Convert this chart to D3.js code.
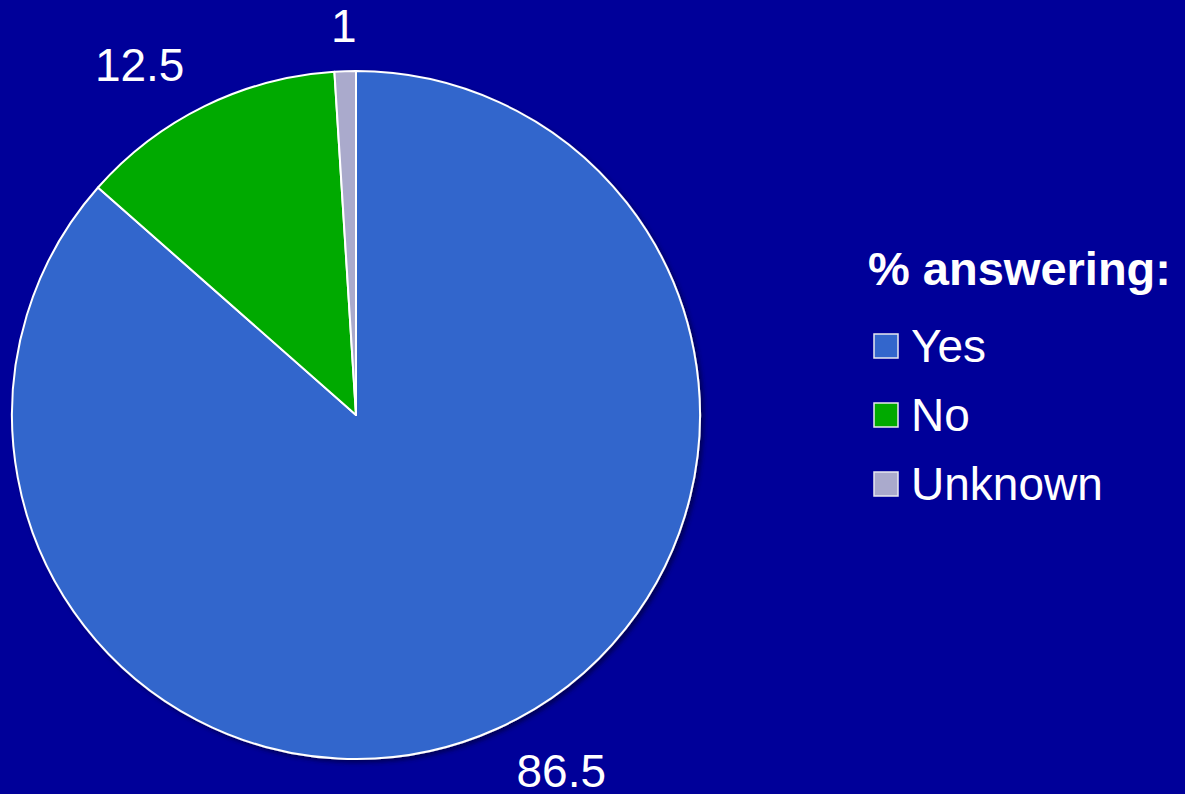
<!DOCTYPE html>
<html>
<head>
<meta charset="utf-8">
<script src="https://cdn.jsdelivr.net/npm/d3@7"></script>
<style>
  html, body { margin: 0; padding: 0; background: #000099; }
  svg { display: block; font-family: "Liberation Sans", Arial, sans-serif; }
</style>
</head>
<body>
<div id="chart"></div>
<script>
// Chart data
const categories = ['Yes', 'No', 'Unknown'];
const values = [86.5, 12.5, 1];
const valueLabels = ['86.5', '12.5', '1'];
const legendTitle = '% answering:';

const width = 1185;
const height = 794;
const colors = {
    background: '#000099',
    Yes: '#3366CC',
    No: '#00AA00',
    Unknown: '#AAAACC'
};

const cx = 356, cy = 415, radius = 344;
const labelRadius = 390;

const svg = d3.select('#chart')
    .append('svg')
    .attr('width', width)
    .attr('height', height);

svg.append('rect')
    .attr('width', width)
    .attr('height', height)
    .attr('fill', colors.background);

// soft shadow under the pie
const defs = svg.append('defs');
defs.append('filter')
    .attr('id', 'shadow')
    .attr('x', '-10%').attr('y', '-10%')
    .attr('width', '120%').attr('height', '120%')
    .append('feDropShadow')
    .attr('dx', 3)
    .attr('dy', 3)
    .attr('stdDeviation', 2)
    .attr('flood-color', '#000033')
    .attr('flood-opacity', 0.6);

const data = categories.map((c, i) => ({ name: c, value: values[i], label: valueLabels[i] }));

const pie = d3.pie()
    .sort(null)
    .value(d => d.value);

const arc = d3.arc()
    .innerRadius(0)
    .outerRadius(radius);

const arcs = pie(data);

const chart = svg.append('g')
    .attr('transform', `translate(${cx},${cy})`);

chart.append('g')
    .attr('filter', 'url(#shadow)')
    .selectAll('path')
    .data(arcs)
    .join('path')
    .attr('d', arc)
    .attr('fill', d => colors[d.data.name])
    .attr('stroke', '#ffffff')
    .attr('stroke-width', 2)
    .attr('stroke-linejoin', 'round');

// value labels outside each slice
chart.selectAll('text.value')
    .data(arcs)
    .join('text')
    .attr('class', 'value')
    .each(function(d) {
        const mid = (d.startAngle + d.endAngle) / 2;
        const dx = Math.sin(mid);
        const dy = -Math.cos(mid);
        const anchor = dx > 0.1 ? 'start' : (dx < -0.1 ? 'end' : 'middle');
        d3.select(this)
            .attr('x', labelRadius * dx)
            .attr('y', labelRadius * dy)
            .attr('dy', '0.36em')
            .attr('text-anchor', anchor);
    })
    .attr('fill', '#ffffff')
    .style('font-size', '46px')
    .text(d => d.data.label);

// Legend
const legend = svg.append('g')
    .attr('transform', 'translate(868, 0)');

legend.append('text')
    .attr('x', 0)
    .attr('y', 285)
    .attr('fill', '#ffffff')
    .style('font-size', '47px')
    .style('font-weight', 'bold')
    .text(legendTitle);

const item = legend.selectAll('g.item')
    .data(data)
    .join('g')
    .attr('class', 'item')
    .attr('transform', (d, i) => `translate(0, ${346 + i * 69})`);

item.append('rect')
    .attr('x', 6)
    .attr('y', -12)
    .attr('width', 24)
    .attr('height', 24)
    .attr('fill', d => colors[d.name])
    .attr('stroke', '#e8e8f0')
    .attr('stroke-width', 1.5);

item.append('text')
    .attr('x', 43)
    .attr('y', 16)
    .attr('fill', '#ffffff')
    .style('font-size', '46px')
    .text(d => d.name);
</script>
</body>
</html>
